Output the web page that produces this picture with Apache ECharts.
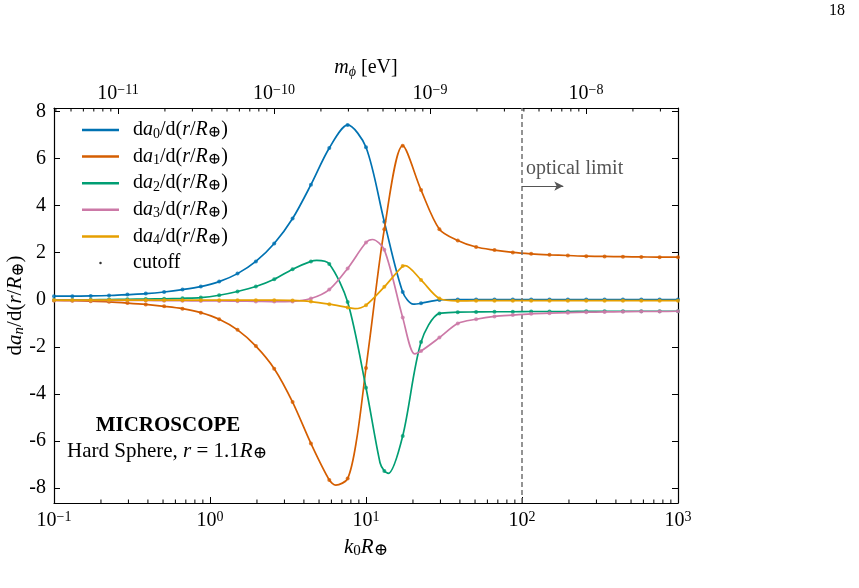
<!DOCTYPE html>
<html>
<head>
<meta charset="utf-8">
<script src="https://cdn.jsdelivr.net/npm/echarts@6/dist/echarts.min.js"></script>
<style>
  html, body { margin: 0; padding: 0; background: #fff; }
  #main { width: 859px; height: 588px; }
</style>
</head>
<body>
<div id="main"></div>
<script>
// k0 R where the cutoff dots sit (same for every curve)
const kVals = [0.1, 0.1311, 0.1719, 0.2254, 0.2955, 0.3875, 0.508, 0.6661, 0.8733, 1.145,
  1.501, 1.968, 2.581, 3.384, 4.437, 5.817, 7.627, 10, 13.11, 17.19,
  22.54, 29.55, 38.75, 50.8, 66.61, 87.33, 114.5, 150.1, 196.8, 258.1,
  338.4, 443.7, 581.7, 762.7, 1000];

// da_n/d(r/R) at the dots
const da0 = [0.15, 0.15, 0.16, 0.18, 0.22, 0.26, 0.33, 0.43, 0.56, 0.77,
  1.11, 1.63, 2.39, 3.45, 4.89, 6.45, 7.43, 6.48, 3.31, 0.33,
  -0.15, -0.01, 0.01, 0.01, 0.01, 0.01, 0.01, 0.01, 0.01, 0.01,
  0.01, 0.01, 0.01, 0.01, 0.01];
const da1 = [-0.03, -0.04, -0.06, -0.09, -0.14, -0.2, -0.28, -0.38, -0.55, -0.83,
  -1.28, -1.97, -2.93, -4.35, -6.11, -7.66, -7.6, -2.9, 3.0, 6.55,
  4.66, 3.0, 2.52, 2.24, 2.11, 2.01, 1.95, 1.91, 1.88, 1.85,
  1.84, 1.83, 1.82, 1.81, 1.81];
const da2 = [-0.01, -0.01, 0.0, 0.01, 0.02, 0.03, 0.04, 0.06, 0.09, 0.19,
  0.35, 0.56, 0.87, 1.3, 1.63, 1.52, -0.1, -3.74, -7.28, -5.79,
  -1.8, -0.58, -0.53, -0.52, -0.51, -0.51, -0.5, -0.5, -0.5, -0.49,
  -0.49, -0.49, -0.49, -0.49, -0.49];
const da3 = [-0.03, -0.03, -0.03, -0.03, -0.03, -0.03, -0.04, -0.04, -0.05, -0.05,
  -0.06, -0.07, -0.08, -0.07, 0.05, 0.43, 1.33, 2.43, 2.12, -0.76,
  -2.18, -1.61, -1.01, -0.83, -0.71, -0.65, -0.6, -0.57, -0.55, -0.53,
  -0.52, -0.51, -0.5, -0.5, -0.49];
const da4 = [-0.02, -0.02, -0.02, -0.02, -0.02, -0.02, -0.02, -0.02, -0.02, -0.02,
  -0.02, -0.02, -0.02, -0.03, -0.08, -0.19, -0.33, -0.23, 0.55, 1.43,
  0.84, 0.05, -0.05, -0.04, -0.04, -0.04, -0.04, -0.04, -0.04, -0.04,
  -0.04, -0.04, -0.04, -0.04, -0.04];

// points (turning points, steep parts)
const da0Extra = [[20.1, -0.19]];
const da1Extra = [[6.4, -7.88], [8.71, -5.94], [10.6, -1.61]];
const da2Extra = [[4.83, 1.67], [12.3, -6.93], [13.9, -7.38]];
const da3Extra = [[11.0, 2.56], [20.5, -2.3]];
const da4Extra = [[8.5, -0.38], [17.8, 1.45]];

const seriesNames = ['a0', 'a1', 'a2', 'a3', 'a4'];
const subs = ['0', '1', '2', '3', '4'];
const colors = ['#0072B2', '#D55E00', '#009E73', '#CC79A7', '#E69F00'];

// axis ticks
const yTicks = [-8, -6, -4, -2, 0, 2, 4, 6, 8];
const minorMult = [2, 3, 4, 5, 6, 7, 8, 9];
const kDecades = [0.1, 1, 10, 100];
const mDecades = [1e-12, 1e-11, 1e-10, 1e-9, 1e-8];
const mPerK = 3.89e-11; // eV per unit of k0 R

const kMin = 0.1, kMax = 1000;
const yMin = -8.64, yMax = 8.15;
const FONT = 'Liberation Serif';

function curve(vals, extra) {
  return kVals.map((k, i) => [k, vals[i]]).concat(extra).sort((a, b) => a[0] - b[0]);
}

const minorTicks = [];
kDecades.forEach(d => minorMult.forEach(j => minorTicks.push([j * d, 0])));
mDecades.forEach(d => minorMult.forEach(j => {
  const k = j * d / mPerK;
  if (k > kMin && k < kMax) minorTicks.push([k, 1]);
}));

function makeRich(size) {
  const sub = Math.round(size * 0.72);
  return {
    r: { fontFamily: FONT, fontSize: size, lineHeight: size + 2, color: '#000' },
    i: { fontFamily: FONT, fontSize: size, lineHeight: size + 2, fontStyle: 'italic', color: '#000' },
    s: { fontFamily: FONT, fontSize: sub, lineHeight: sub - 1, verticalAlign: 'bottom', color: '#000' },
    si: { fontFamily: FONT, fontSize: sub, lineHeight: sub - 1, verticalAlign: 'bottom', fontStyle: 'italic', color: '#000' },
    o: { fontFamily: 'DejaVu Serif', fontSize: Math.round(size * 0.8), lineHeight: Math.round(size * 0.8) - 2, verticalAlign: 'bottom', color: '#000' },
    b: { fontFamily: FONT, fontSize: size, lineHeight: size + 2, color: '#000' },
    p: { fontFamily: FONT, fontSize: sub, lineHeight: sub - 3, verticalAlign: 'top', color: '#000' }
  };
}
const rich20 = makeRich(20);
const rich21 = makeRich(21);

function powLabel(v) {
  const e = Math.round(Math.log10(v));
  return '{b|10}{p|' + (e < 0 ? '\u2212' + (-e) : e) + '}';
}

function legendText(name) {
  if (name === 'cutoff') return '{r|cutoff}';
  const n = subs[seriesNames.indexOf(name)];
  return '{r|d}{i|a}{s|' + n + '}{r|/d(}{i|r}{r|/}{i|R}{o|\u2295}{r|)}';
}

const series = [];
seriesNames.forEach((name, i) => {
  const vals = [da0, da1, da2, da3, da4][i];
  const extra = [da0Extra, da1Extra, da2Extra, da3Extra, da4Extra][i];
  series.push({
    name: name,
    type: 'line',
    data: curve(vals, extra),
    smooth: 0.3,
    showSymbol: false,
    color: colors[i],
    lineStyle: { width: 1.7, color: colors[i] },
    z: 3 + i
  });
  series.push({
    name: 'dots' + i,
    type: 'scatter',
    data: kVals.map((k, j) => [k, vals[j]]),
    symbol: 'circle',
    symbolSize: 4,
    itemStyle: { color: colors[i] },
    z: 3 + i
  });
});

series.push({
  name: 'cutoff',
  type: 'scatter',
  data: [],
  itemStyle: { color: '#000' }
});

// optical limit
series.push({
  type: 'line',
  data: [],
  markLine: {
    silent: true,
    symbol: ['none', 'none'],
    label: { show: false },
    lineStyle: { type: [5, 3], color: '#707070', width: 1.5 },
    data: [{ xAxis: 100 }]
  }
});
series.push({
  type: 'line',
  data: [],
  markLine: {
    silent: true,
    symbol: ['none', 'arrow'],
    symbolSize: [7, 9],
    label: { show: false },
    lineStyle: { type: 'solid', color: '#555', width: 1.2 },
    data: [[{ coord: [100, 4.83] }, { coord: [184, 4.83] }]]
  }
});

// minor ticks on the log axes
series.push({
  type: 'custom',
  silent: true,
  data: minorTicks,
  renderItem: function (params, api) {
    const top = api.value(1) === 1;
    const p = api.coord([api.value(0), top ? yMax : yMin]);
    return {
      type: 'line',
      shape: { x1: p[0], y1: p[1], x2: p[0], y2: p[1] + (top ? 3.5 : -3.5) },
      style: { stroke: '#000', lineWidth: 1 }
    };
  },
  z: 10
});

const chart = echarts.init(document.getElementById('main'));
chart.setOption({
  animation: false,
  backgroundColor: '#fff',
  grid: { left: 54, top: 108, width: 624, height: 395, outerBoundsMode: 'none', containLabel: false },
  legend: {
    orient: 'vertical',
    left: 82,
    top: 120,
    padding: 0,
    itemWidth: 37,
    itemHeight: 2.5,
    itemGap: 5.6,
    data: seriesNames.map(n => ({ name: n, icon: 'rect' })).concat([{ name: 'cutoff', icon: 'circle' }]),
    formatter: legendText,
    textStyle: { padding: [0, 0, 0, 9], rich: rich20 },
    selectedMode: false
  },
  xAxis: [
    {
      type: 'log',
      min: kMin,
      max: kMax,
      position: 'bottom',
      name: '{i|k}{s|0}{i|R}{o|\u2295}',
      nameLocation: 'middle',
      nameGap: 33,
      nameMoveOverlap: false,
      nameTextStyle: { rich: rich21 },
      splitLine: { show: false },
      axisLine: { onZero: false, lineStyle: { color: '#000', width: 1.2 } },
      axisTick: { inside: true, length: 6, lineStyle: { color: '#000' } },
      axisLabel: { formatter: powLabel, rich: rich20, margin: 7 }
    },
    {
      type: 'log',
      min: kMin * mPerK,
      max: kMax * mPerK,
      position: 'top',
      name: '{i|m}{si|\u03d5}{r| [eV]}',
      nameLocation: 'middle',
      nameGap: 29,
      nameMoveOverlap: false,
      nameTextStyle: { rich: rich20 },
      splitLine: { show: false },
      axisLine: { onZero: false, lineStyle: { color: '#000', width: 1.2 } },
      axisTick: { inside: true, length: 6, lineStyle: { color: '#000' } },
      axisLabel: { formatter: powLabel, rich: rich20, margin: 3, showMinLabel: false, showMaxLabel: false }
    }
  ],
  yAxis: [
    {
      type: 'value',
      min: yMin,
      max: yMax,
      name: '{r|d}{i|a}{si|n}{r|/d(}{i|r}{r|/}{i|R}{o|\u2295}{r|)}',
      nameLocation: 'middle',
      nameRotate: 90,
      nameGap: 27,
      nameMoveOverlap: false,
      nameTextStyle: { rich: rich21 },
      splitLine: { show: false },
      axisLine: { show: true, onZero: false, lineStyle: { color: '#000', width: 1.2 } },
      axisTick: { inside: true, length: 6, customValues: yTicks, lineStyle: { color: '#000' } },
      axisLabel: { customValues: yTicks, fontFamily: FONT, fontSize: 20, color: '#000', margin: 8 }
    },
    {
      type: 'value',
      min: yMin,
      max: yMax,
      position: 'right',
      splitLine: { show: false },
      axisLine: { show: true, onZero: false, lineStyle: { color: '#000', width: 1.2 } },
      axisTick: { inside: true, length: 6, customValues: yTicks, lineStyle: { color: '#000' } },
      axisLabel: { show: false }
    }
  ],
  graphic: [
    {
      type: 'text', left: 829, top: 3,
      style: { text: '18', font: '16px "Liberation Serif"', fill: '#000' }
    },
    {
      type: 'text', left: 526, top: 159,
      style: { text: 'optical limit', font: '20px "Liberation Serif"', fill: '#555' }
    },
    {
      type: 'text', x: 168, y: 426,
      style: { text: 'MICROSCOPE', font: 'bold 21px "Liberation Serif"', fill: '#000', align: 'center', verticalAlign: 'middle' }
    },
    {
      type: 'text', x: 167, y: 451,
      style: {
        text: '{r|Hard Sphere, }{i|r}{r| = 1.1}{i|R}{o|\u2295}',
        rich: rich21, align: 'center', verticalAlign: 'middle'
      }
    }
  ],
  series: series
});
</script>
</body>
</html>
